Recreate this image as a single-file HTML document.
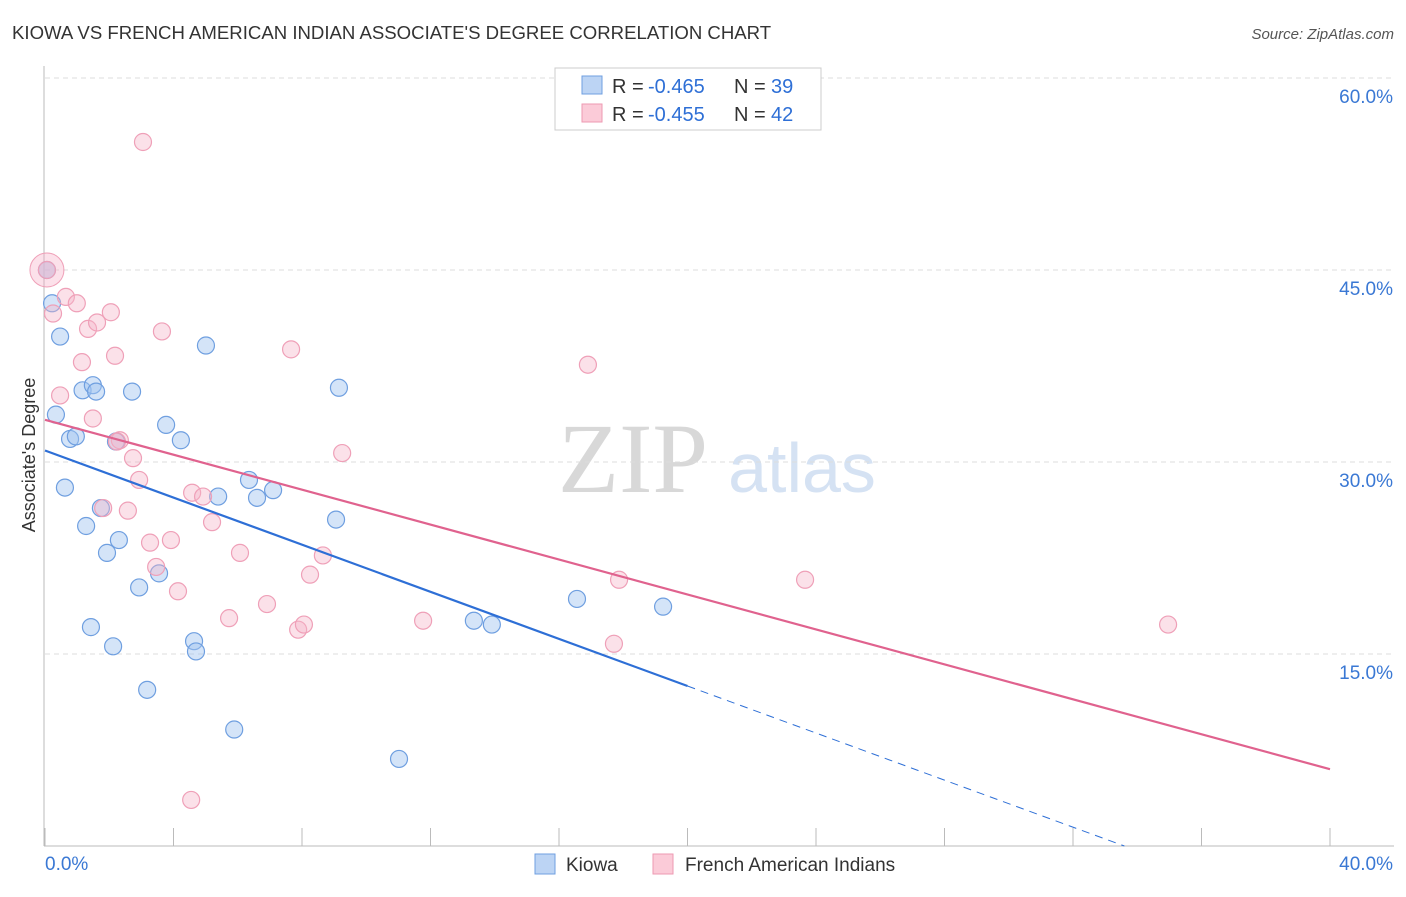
<!DOCTYPE html>
<html><head><meta charset="utf-8"><style>
body{margin:0;background:#fff;font-family:"Liberation Sans",sans-serif;}
svg text{font-family:"Liberation Sans",sans-serif;}
</style></head><body>
<svg id="chart" width="1406" height="892" xmlns="http://www.w3.org/2000/svg">
<text x="12" y="39" font-size="18.6" fill="#333">KIOWA VS FRENCH AMERICAN INDIAN ASSOCIATE'S DEGREE CORRELATION CHART</text>
<text x="1394" y="39" font-size="15" fill="#555" text-anchor="end" font-style="italic">Source: ZipAtlas.com</text>
<text x="35" y="455" font-size="18" fill="#333" transform="rotate(-90 35 455)" text-anchor="middle">Associate's Degree</text>
<text x="633" y="492" font-size="100" fill="#d8d8d8" text-anchor="middle" style="font-family:'Liberation Serif',serif">ZIP</text>
<text x="802" y="492" font-size="70" fill="#d5e2f3" text-anchor="middle">atlas</text>
<g id="grid"></g><g id="axes"></g><g id="pts"></g><g id="lines"></g>
<g>
<rect x="555" y="68" width="266" height="62" fill="#fff" stroke="#ccc"/>
<rect x="582" y="76" width="20" height="18" fill="#bcd4f4" stroke="#6f9fe0"/>
<rect x="582" y="104" width="20" height="18" fill="#fbcbd8" stroke="#ee9ab2"/>
<text x="612" y="93" font-size="20" fill="#333">R =</text>
<text x="648" y="93" font-size="20" fill="#2e6fd6">-0.465</text>
<text x="734" y="93" font-size="20" fill="#333">N =</text>
<text x="771" y="93" font-size="20" fill="#2e6fd6">39</text>
<text x="612" y="121" font-size="20" fill="#333">R =</text>
<text x="648" y="121" font-size="20" fill="#2e6fd6">-0.455</text>
<text x="734" y="121" font-size="20" fill="#333">N =</text>
<text x="771" y="121" font-size="20" fill="#2e6fd6">42</text>
</g>
<g>
<rect x="535" y="854" width="20" height="20" fill="#bcd4f4" stroke="#6f9fe0"/>
<text x="566" y="871" font-size="19" fill="#333">Kiowa</text>
<rect x="653" y="854" width="20" height="20" fill="#fbcbd8" stroke="#ee9ab2"/>
<text x="685" y="871" font-size="19" fill="#333">French American Indians</text>
</g>
</svg>
<script>
const xTicks=[0,4,8,12,16,20,24,28,32,36,40];
const yTicks=[15,30,45,60];
const kiowaX=[0.22,0.47,0.34,0.62,0.78,0.96,1.17,1.49,1.59,1.28,1.43,1.74,1.93,2.12,2.21,2.30,2.71,2.93,3.18,3.55,3.77,4.23,4.64,4.70,5.01,5.39,5.89,6.35,6.60,7.10,9.06,9.15,11.02,13.35,13.91,16.56,19.24,0.06];
const kiowaY=[42.4,39.8,33.7,28.0,31.8,32.0,35.6,36.0,35.5,25.0,17.1,26.4,22.9,15.6,31.6,23.9,35.5,20.2,12.2,21.3,32.9,31.7,16.0,15.2,39.1,27.3,9.1,28.6,27.2,27.8,25.5,35.8,6.8,17.6,17.3,19.3,18.7,45.0];
const frenchX=[3.05,0.06,0.25,0.65,0.99,1.34,1.62,2.05,1.15,2.18,0.47,1.49,2.33,2.24,2.74,2.93,1.81,2.58,3.27,3.46,3.92,3.64,4.14,4.58,4.92,5.20,5.73,6.07,6.91,7.66,7.88,8.06,8.25,8.65,9.25,4.55,11.77,16.90,17.71,17.87,23.66,34.96];
const frenchY=[55.0,45.0,41.6,42.9,42.4,40.4,40.9,41.7,37.8,38.3,35.2,33.4,31.7,31.6,30.3,28.6,26.4,26.2,23.7,21.8,23.9,40.2,19.9,27.6,27.3,25.3,17.8,22.9,18.9,38.8,16.9,17.3,21.2,22.7,30.7,3.6,17.6,37.6,15.8,20.8,20.8,17.3];
const kiowaReg=[0,30.9,20,12.5,33.6,0];
const frenchReg=[0,33.3,40,6.0];
const X=v=>45+v*32.125, Y=v=>846-v*12.8;
const NS='http://www.w3.org/2000/svg';
function mk(p,tag,a){const e=document.createElementNS(NS,tag);for(const k in a)e.setAttribute(k,a[k]);p.appendChild(e);return e;}
const grid=document.getElementById('grid'),axes=document.getElementById('axes'),pts=document.getElementById('pts'),lines=document.getElementById('lines');
yTicks.forEach(t=>{const l=mk(grid,'line',{x1:45,x2:1394,y1:Y(t),y2:Y(t),stroke:'#ddd','stroke-dasharray':'5,4'});


const tx=mk(grid,'text',{x:1393,y:Y(t)+25,'font-size':19,fill:'#3a78d4','text-anchor':'end'});tx.textContent=t.toFixed(1)+'%';

});
const ya=mk(axes,'line',{x1:44,x2:44,y1:66,y2:846,stroke:'#bbb'});


const xa=mk(axes,'line',{x1:44,x2:1394,y1:846,y2:846,stroke:'#bbb'});


xTicks.forEach(t=>{const l=mk(axes,'line',{x1:X(t),x2:X(t),y1:828,y2:846,stroke:'#bbb'});

});
[[0,'start',45],[40,'end',1393]].forEach(([v,a,x])=>{const tx=mk(axes,'text',{x:x,y:870,'font-size':19,fill:'#3a78d4','text-anchor':a});tx.textContent=v.toFixed(1)+'%';

});
const big=mk(pts,'circle',{cx:X(0.06),cy:Y(45),r:17,fill:'rgba(246,170,195,0.35)',stroke:'#efa0b8'});


kiowaX.forEach((x,i)=>{const c=mk(pts,'circle',{cx:X(x),cy:Y(kiowaY[i]),r:8.5,fill:'rgba(160,195,240,0.45)',stroke:'#6f9fe0','stroke-width':1.2});

});
frenchX.forEach((x,i)=>{const c=mk(pts,'circle',{cx:X(x),cy:Y(frenchY[i]),r:8.5,fill:'rgba(246,180,200,0.4)',stroke:'#efa0b8','stroke-width':1.2});

});
const kl=mk(lines,'line',{x1:X(kiowaReg[0]),y1:Y(kiowaReg[1]),x2:X(kiowaReg[2]),y2:Y(kiowaReg[3]),stroke:'#2e6fd6','stroke-width':2.2});


const kd=mk(lines,'line',{x1:X(kiowaReg[2]),y1:Y(kiowaReg[3]),x2:X(kiowaReg[4]),y2:Y(kiowaReg[5]),stroke:'#2e6fd6','stroke-width':1,'stroke-dasharray':'8,6'});


const fl=mk(lines,'line',{x1:X(frenchReg[0]),y1:Y(frenchReg[1]),x2:X(frenchReg[2]),y2:Y(frenchReg[3]),stroke:'#e0628e','stroke-width':2.2});


</script>
</body></html>
